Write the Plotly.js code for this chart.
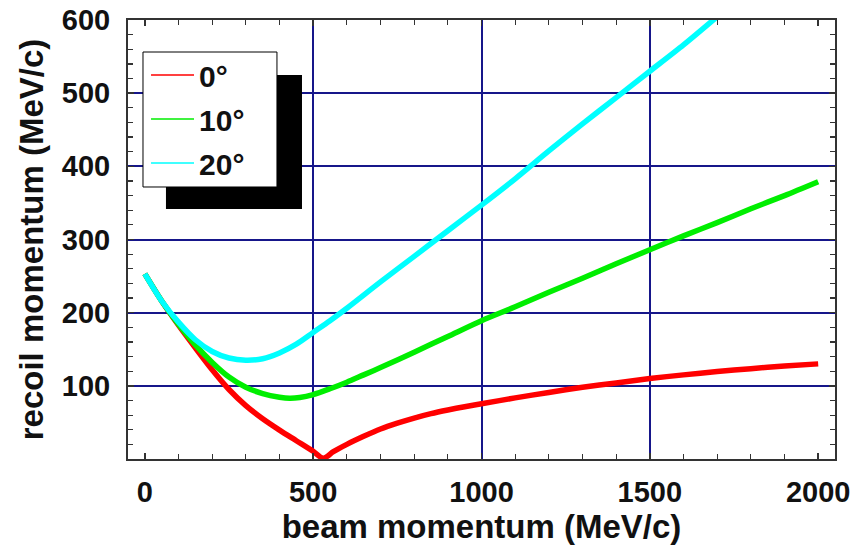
<!DOCTYPE html>
<html>
<head>
<meta charset="utf-8">
<script src="https://cdn.plot.ly/plotly-3.0.1.min.js"></script>
<style>
html,body{margin:0;padding:0;background:#fff;}
#chart{width:858px;height:547px;}
</style>
</head>
<body>
<div id="chart"></div>
<script>
// beam momentum (MeV/c) and recoil momentum (MeV/c)
var beam0  = [0, 50, 100, 150, 200, 250, 300, 350, 400, 450, 500, 530, 560, 600, 650, 700, 750, 800, 850, 900, 950, 1000, 1100, 1200, 1300, 1400, 1500, 1600, 1700, 1800, 1900, 2000];
var recoil0 = [253, 216, 183, 152, 122, 95, 73, 55, 39.5, 25, 10.5, 1, 10, 20, 31, 41, 49, 56, 62, 67, 71.5, 75.5, 83.5, 91, 98, 104, 110, 115, 119.5, 123.5, 127, 130];

var beam10  = [0, 50, 100, 150, 200, 250, 300, 350, 400, 430, 460, 500, 550, 600, 650, 700, 800, 900, 1000, 1100, 1200, 1300, 1400, 1500, 1600, 1700, 1800, 1900, 2000];
var recoil10 = [253, 216, 184, 156, 132, 112, 98, 89.5, 84.5, 83, 84, 88, 96, 105, 115, 125, 146, 167.5, 189, 208, 228, 247, 267, 286, 305, 323, 342, 360, 379];

var beam20  = [0, 50, 100, 150, 200, 250, 300, 350, 400, 450, 500, 550, 600, 700, 800, 900, 1000, 1100, 1200, 1300, 1400, 1500, 1600, 1700];
var recoil20 = [253, 216, 187, 163, 147, 138, 135, 137, 145, 157, 173, 189, 206, 242, 277, 312, 347, 383, 421, 458, 494, 530, 566, 604.5];

var seriesNames = ['0°', '10°', '20°'];
var seriesColors = ['#ff0000', '#00ee00', '#00ffff'];

var xTicks = [0, 500, 1000, 1500, 2000];
var yTicks = [100, 200, 300, 400, 500, 600];
var xGrid = [500, 1000, 1500];
var yGrid = [100, 200, 300, 400, 500];

var FONT = 'Liberation Sans, Arial, sans-serif';
var X_RANGE = [-50, 2050];
var Y_RANGE = [0, 600];

var traces = [];
var xs = [beam0, beam10, beam20];
var ys = [recoil0, recoil10, recoil20];
var smooth = [0.8, 0.8, 0.8];
for (var i = 0; i < 3; i++) {
  traces.push({
    x: xs[i], y: ys[i], type: 'scatter', mode: 'lines',
    name: seriesNames[i], showlegend: false,
    line: {color: seriesColors[i], width: 5.5, shape: 'spline', smoothing: smooth[i]},
    hoverinfo: 'x+y'
  });
}
// legend entries (thin line samples as in the reference)
for (var j = 0; j < 3; j++) {
  traces.push({
    x: [null], y: [null], type: 'scatter', mode: 'lines',
    name: seriesNames[j], showlegend: true, legendgroup: 'g' + j,
    line: {color: seriesColors[j], width: 1.5}
  });
}
// empty trace that carries the grid-only overlay axes
traces.push({x: [null], y: [null], type: 'scatter', mode: 'lines', xaxis: 'x2', yaxis: 'y2', showlegend: false, hoverinfo: 'skip'});

var tickFont = {family: FONT, size: 29, color: '#111111', weight: 'bold'};

var layout = {
  width: 858, height: 547,
  margin: {l: 128, r: 23, t: 20, b: 88, pad: 0},
  paper_bgcolor: '#ffffff', plot_bgcolor: '#ffffff',
  font: {family: FONT, color: '#111111'},
  xaxis: {
    range: X_RANGE, tickmode: 'array', tickvals: xTicks, ticktext: xTicks.map(String),
    showline: true, linecolor: '#333333', linewidth: 2, mirror: 'ticks',
    ticks: 'inside', ticklen: 6, tickwidth: 1.5, tickcolor: '#333333',
    showgrid: false, zeroline: false, tickfont: tickFont,
    minor: {dtick: 100, tick0: 0, ticks: 'inside', ticklen: 5, tickcolor: '#333333', tickwidth: 1.2, showgrid: false},
    ticklabelstandoff: 6,
    title: {text: 'beam momentum (MeV/c)', font: {family: FONT, size: 33, color: '#111111', weight: 'bold'}, standoff: 4}
  },
  yaxis: {
    range: Y_RANGE, tickmode: 'array', tickvals: yTicks, ticktext: yTicks.map(String),
    showline: true, linecolor: '#333333', linewidth: 2, mirror: 'ticks',
    ticks: 'inside', ticklen: 6, tickwidth: 1.5, tickcolor: '#333333',
    showgrid: false, zeroline: false, tickfont: tickFont,
    minor: {dtick: 20, tick0: 0, ticks: 'inside', ticklen: 5, tickcolor: '#333333', tickwidth: 1.2, showgrid: false},
    ticklabelstandoff: 10,
    title: {text: 'recoil momentum (MeV/c)', font: {family: FONT, size: 33, color: '#111111', weight: 'bold'}, standoff: 8}
  },
  xaxis2: {
    overlaying: 'x', anchor: 'y2', range: X_RANGE, tickmode: 'array', tickvals: xGrid,
    showgrid: true, gridcolor: '#16168a', gridwidth: 2, showticklabels: false,
    ticks: '', showline: false, zeroline: false
  },
  yaxis2: {
    overlaying: 'y', anchor: 'x2', range: Y_RANGE, tickmode: 'array', tickvals: yGrid,
    showgrid: true, gridcolor: '#16168a', gridwidth: 2, showticklabels: false,
    ticks: '', showline: false, zeroline: false
  },
  shapes: [
    {type: 'rect', xref: 'paper', yref: 'paper', x0: 0.0537, x1: 0.2461, y0: 0.5695, y1: 0.8747,
     fillcolor: '#000000', line: {width: 0}, layer: 'above'},
    {type: 'rect', xref: 'paper', yref: 'paper', x0: 0.0212, x1: 0.2107, y0: 0.6196, y1: 0.9271,
     fillcolor: '#ffffff', line: {color: '#000000', width: 1}, layer: 'above'}
  ],
  legend: {
    x: 0.0255, y: 0.934, xanchor: 'left', yanchor: 'top',
    bgcolor: 'rgba(0,0,0,0)', borderwidth: 0,
    itemwidth: 43, tracegroupgap: 2,
    font: {family: FONT, size: 30, color: '#111111', weight: 'bold'}
  },
  showlegend: true
};

Plotly.newPlot('chart', traces, layout, {displayModeBar: false, staticPlot: true});
</script>
</body>
</html>
